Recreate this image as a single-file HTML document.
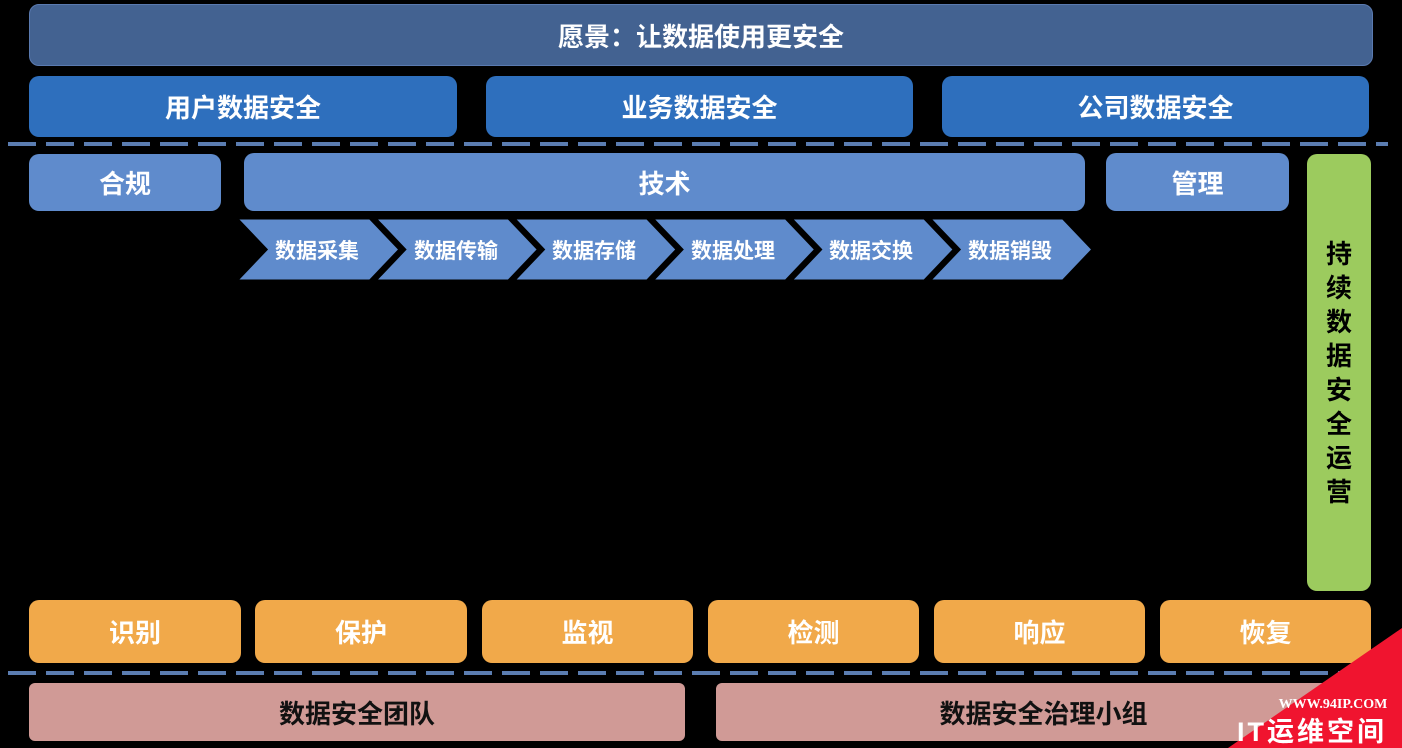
<!DOCTYPE html>
<html><head><meta charset="utf-8"><style>
body{margin:0;width:1402px;height:748px;background:#000;position:relative;overflow:hidden;font-family:"Liberation Sans","Noto Sans CJK SC",sans-serif;font-weight:bold}
.b{position:absolute;display:flex;align-items:center;justify-content:center;border-radius:10px;color:#fff;box-sizing:border-box}
.dash{position:absolute;left:8px;width:1380px;height:4px;background:repeating-linear-gradient(90deg,#5b7db1 0 28px,transparent 28px 38px)}
</style></head><body>
<div class="b" style="left:29px;top:4px;width:1344px;height:62px;background:#436291;border:1px solid #5a7ab0;font-size:26px">愿景：让数据使用更安全</div>
<div class="b" style="left:29px;top:76px;width:428px;height:61px;background:#2e6fbd;font-size:26px">用户数据安全</div>
<div class="b" style="left:486px;top:76px;width:427px;height:61px;background:#2e6fbd;font-size:26px">业务数据安全</div>
<div class="b" style="left:942px;top:76px;width:427px;height:61px;background:#2e6fbd;font-size:26px">公司数据安全</div>
<div class="dash" style="top:142px"></div>
<div class="b" style="left:29px;top:154px;width:192px;height:57px;background:#5f8bcc;font-size:26px">合规</div>
<div class="b" style="left:244px;top:153px;width:841px;height:58px;background:#5f8bcc;font-size:26px">技术</div>
<div class="b" style="left:1106px;top:153px;width:183px;height:58px;background:#5f8bcc;font-size:26px">管理</div>
<div class="b" style="left:1307px;top:154px;width:64px;height:437px;background:#9ccb5e;color:#000;font-size:26px;line-height:34px;text-align:center;padding:0 19px">持续数据安全运营</div>
<svg style="position:absolute;left:0;top:0" width="1402" height="748">
<g fill="#5f8bcc" stroke="#000" stroke-width="3">
<polygon points="236,218 370,218 400,249.5 370,281 236,281 266,249.5"/>
<polygon points="374.6,218 508.6,218 538.6,249.5 508.6,281 374.6,281 404.6,249.5"/>
<polygon points="513.2,218 647.2,218 677.2,249.5 647.2,281 513.2,281 543.2,249.5"/>
<polygon points="651.8,218 785.8,218 815.8,249.5 785.8,281 651.8,281 681.8,249.5"/>
<polygon points="790.4,218 924.4,218 954.4,249.5 924.4,281 790.4,281 820.4,249.5"/>
<polygon points="929,218 1063,218 1093,249.5 1063,281 929,281 959,249.5"/>
</g>
<g fill="#fff" font-size="21" font-weight="bold" text-anchor="middle" font-family="Liberation Sans, Noto Sans CJK SC, sans-serif">
<text x="317" y="258">数据采集</text><text x="456" y="258">数据传输</text><text x="594" y="258">数据存储</text>
<text x="733" y="258">数据处理</text><text x="871" y="258">数据交换</text><text x="1010" y="258">数据销毁</text>
</g>
</svg>
<div class="b" style="left:29px;top:600px;width:212px;height:63px;background:#f1a94a;font-size:26px">识别</div>
<div class="b" style="left:255px;top:600px;width:212px;height:63px;background:#f1a94a;font-size:26px">保护</div>
<div class="b" style="left:482px;top:600px;width:211px;height:63px;background:#f1a94a;font-size:26px">监视</div>
<div class="b" style="left:708px;top:600px;width:211px;height:63px;background:#f1a94a;font-size:26px">检测</div>
<div class="b" style="left:934px;top:600px;width:211px;height:63px;background:#f1a94a;font-size:26px">响应</div>
<div class="b" style="left:1160px;top:600px;width:211px;height:63px;background:#f1a94a;font-size:26px">恢复</div>
<div class="dash" style="top:671px"></div>
<div class="b" style="left:29px;top:683px;width:656px;height:58px;background:#d09a96;color:#111;font-size:26px;border-radius:6px">数据安全团队</div>
<div class="b" style="left:716px;top:683px;width:655px;height:58px;background:#d09a96;color:#111;font-size:26px;border-radius:6px">数据安全治理小组</div>
<svg style="position:absolute;left:0;top:0" width="1402" height="748">
<polygon points="1228,748 1402,628 1402,748" fill="#f0142f"/>
<text x="1333" y="708" fill="#fff" font-size="14" font-weight="bold" text-anchor="middle" font-family="Liberation Serif, serif">WWW.94IP.COM</text>
<text x="1312" y="741" fill="#fff" font-size="27" font-weight="bold" text-anchor="middle" letter-spacing="3" font-family="Liberation Sans, Noto Sans CJK SC, sans-serif">IT运维空间</text>
</svg>
</body></html>
